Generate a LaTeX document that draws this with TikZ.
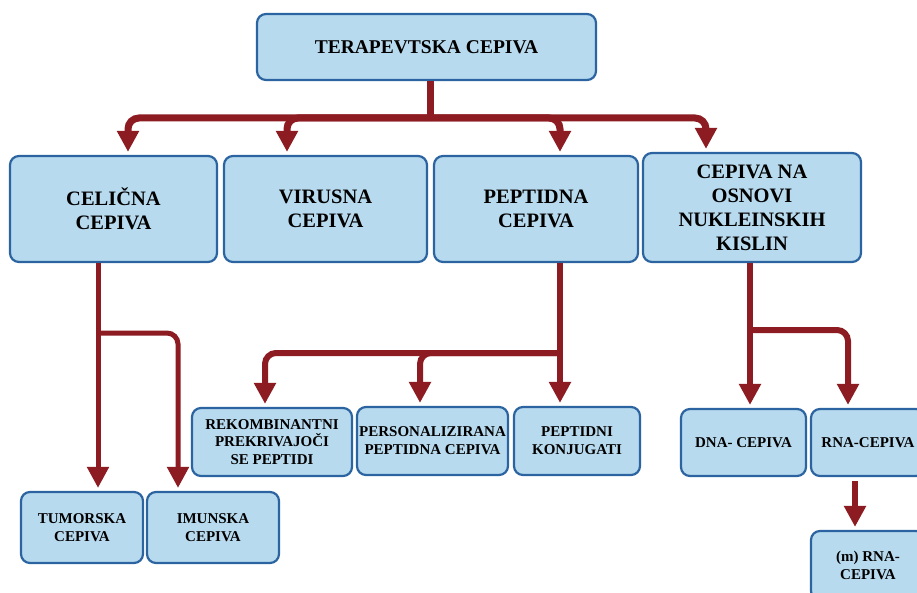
\documentclass[tikz,border=0pt]{standalone}
\usepackage{fontspec}
\setmainfont{Liberation Serif}
\usetikzlibrary{arrows.meta}
\definecolor{boxfill}{HTML}{B8DAEE}
\definecolor{boxline}{HTML}{2B64A0}
\definecolor{arr}{HTML}{8C1C22}
\begin{document}
\begin{tikzpicture}[x=1pt,y=-1pt,
 box/.style={draw=boxline, line width=2.2pt, fill=boxfill, rounded corners=9pt, align=center, inner sep=0pt},
 bigt/.style={font=\fontsize{20.5}{24}\selectfont\bfseries},
 smallt/.style={font=\fontsize{15}{17.8}\selectfont\bfseries},
 stem/.style={draw=arr, line width=#1},
 conn/.style={draw=arr, line width=#1, rounded corners=11pt, shorten >=3pt, -{Triangle[length=21pt,width=21pt]}},
]
\useasboundingbox (0,0) rectangle (917,593);
% boxes
\node[box, minimum width=339, minimum height=66, font=\fontsize{19.5}{22}\selectfont\bfseries] (top) at (426.5,47) {TERAPEVTSKA CEPIVA};
\node[box, bigt, minimum width=207, minimum height=106] (cel) at (113.5,209) {CELIČNA\\CEPIVA};
\node[box, bigt, minimum width=203, minimum height=106] (vir) at (325.5,209) {VIRUSNA\\CEPIVA};
\node[box, bigt, minimum width=204, minimum height=106] (pep) at (536,209) {PEPTIDNA\\CEPIVA};
\node[box, bigt, minimum width=218, minimum height=109] (nuk) at (752,207.5) {CEPIVA NA\\OSNOVI\\NUKLEINSKIH\\KISLIN};
\node[box, smallt, minimum width=122, minimum height=71] (tum) at (82,527.5) {TUMORSKA\\CEPIVA};
\node[box, smallt, minimum width=132, minimum height=71] (imu) at (213,527.5) {IMUNSKA\\CEPIVA};
\node[box, smallt, minimum width=160, minimum height=68] (rek) at (272,442) {REKOMBINANTNI\\PREKRIVAJOČI\\SE PEPTIDI};
\node[box, smallt, minimum width=151, minimum height=68] (per) at (432.5,441) {PERSONALIZIRANA\\PEPTIDNA CEPIVA};
\node[box, smallt, minimum width=126, minimum height=68] (kon) at (577,441) {PEPTIDNI\\KONJUGATI};
\node[box, smallt, minimum width=125, minimum height=67] (dna) at (743.5,442.5) {DNA- CEPIVA};
\node[box, smallt, minimum width=114, minimum height=67] (rna) at (868,442.5) {RNA-CEPIVA};
\node[box, smallt, minimum width=114, minimum height=69] (mrn) at (868,565.5) {(m) RNA-\\CEPIVA};
% coordinates
\coordinate (tb) at (430,118);
\coordinate (a1) at (128,118);
\coordinate (a2) at (287,118);
\coordinate (a3) at (560,118);
\coordinate (a4) at (706,118);
\coordinate (cb) at (98,333);
\coordinate (c2) at (178,333);
\coordinate (pb) at (560,353);
\coordinate (p1) at (265,353);
\coordinate (p2) at (420,353);
\coordinate (nb) at (750,330);
\coordinate (n2) at (848,330);
\coordinate (r1) at (855,480);
% top connectors
\draw[stem=7pt] (tb |- top.south) -- (tb);
\draw[conn=7pt] (tb) -| (a1 |- cel.north);
\draw[conn=7pt] (tb) -| (a2 |- vir.north);
\draw[conn=7pt] (tb) -| (a3 |- pep.north);
\draw[conn=7pt] (tb) -| (a4 |- nuk.north);
% celicna
\draw[conn=5pt] (cb |- cel.south) -- (cb |- tum.north);
\draw[conn=5pt] (cb) -| (c2 |- imu.north);
% peptidna
\draw[conn=6pt] (pb |- pep.south) -- (pb |- kon.north);
\draw[conn=6pt] (pb) -| (p1 |- rek.north);
\draw[conn=6pt] (pb) -| (p2 |- per.north);
% nukleinske
\draw[conn=6pt] (nb |- nuk.south) -- (nb |- dna.north);
\draw[conn=6pt] (nb) -| (n2 |- rna.north);
% rna -> mrna
\draw[conn=6pt, shorten <=4pt] (r1 |- rna.south) -- (r1 |- mrn.north);
\end{tikzpicture}
\end{document}
